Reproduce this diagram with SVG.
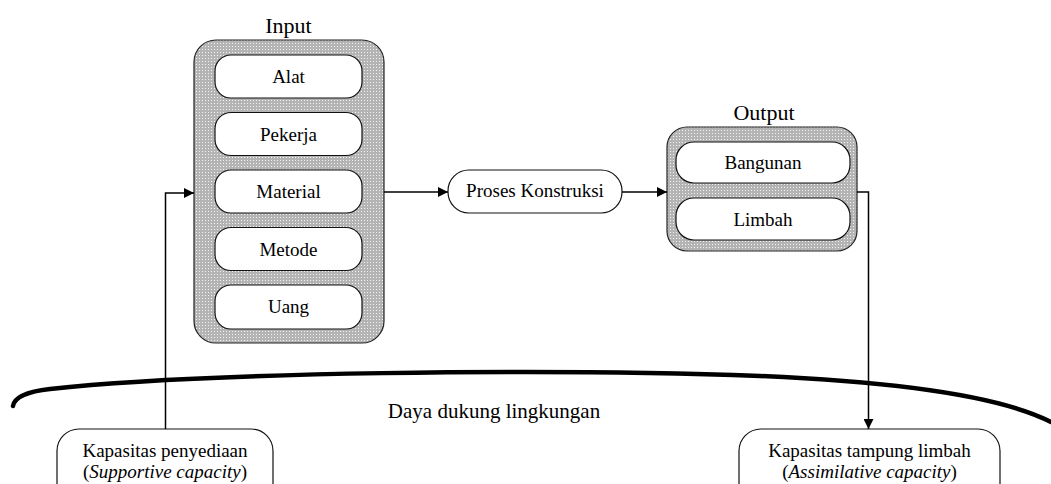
<svg xmlns="http://www.w3.org/2000/svg" width="1051" height="484" viewBox="0 0 1051 484">
<defs>
<pattern id="dots" width="3" height="3" patternUnits="userSpaceOnUse">
<rect width="3" height="3" fill="#b4b4b4"/>
<rect x="1" y="1" width="1" height="1" fill="#f2f2f2"/>
</pattern>
<marker id="arr" viewBox="0 0 10 10" refX="10" refY="5" markerWidth="12" markerHeight="10" markerUnits="userSpaceOnUse" orient="auto">
<path d="M0,0 L10,5 L0,10 z" fill="#000"/>
</marker>
<style>
.cont{fill:url(#dots);stroke:#222;stroke-width:1.2}
.box{fill:#fff;stroke:#111;stroke-width:1.2}
.t{font-family:"Liberation Serif","Times New Roman",serif;font-size:19px;fill:#000;text-anchor:middle}
.title{font-family:"Liberation Serif","Times New Roman",serif;font-size:22px;fill:#000;text-anchor:middle}
.ln{fill:none;stroke:#000;stroke-width:1.5}
</style>
</defs>
<rect width="1051" height="484" fill="#fff"/>

<g id="input">
<text class="title" x="288.5" y="33">Input</text>
<rect class="cont" x="194" y="40" width="190" height="303" rx="22"/>
<g id="alat"><rect class="box" x="215" y="55" width="147" height="43" rx="16"/><text class="t" x="288.5" y="83">Alat</text></g>
<g id="pekerja"><rect class="box" x="215" y="112.5" width="147" height="43" rx="16"/><text class="t" x="288.5" y="140.5">Pekerja</text></g>
<g id="material"><rect class="box" x="215" y="170" width="147" height="43" rx="16"/><text class="t" x="288.5" y="198">Material</text></g>
<g id="metode"><rect class="box" x="215" y="227.5" width="147" height="43" rx="16"/><text class="t" x="288.5" y="255.5">Metode</text></g>
<g id="uang"><rect class="box" x="215" y="285" width="147" height="44" rx="16"/><text class="t" x="288.5" y="313">Uang</text></g>
</g>

<g id="proses">
<rect class="box" x="448" y="170" width="174" height="43" rx="21"/>
<text class="t" x="535" y="197">Proses Konstruksi</text>
</g>

<g id="output">
<text class="title" x="764" y="120">Output</text>
<rect class="cont" x="667" y="127" width="190" height="124" rx="20"/>
<g id="bangunan"><rect class="box" x="676" y="142" width="174" height="41" rx="18"/><text class="t" x="763" y="169">Bangunan</text></g>
<g id="limbah"><rect class="box" x="676" y="198" width="174" height="42" rx="18"/><text class="t" x="763" y="226">Limbah</text></g>
</g>

<g id="lingkungan">
<path d="M13,406 Q15,393 50,389 C200,372 550,368 760,376 C900,382 1000,396 1051,422" fill="none" stroke="#000" stroke-width="4.5" stroke-linecap="round"/>
<text x="494" y="418" font-family="Liberation Serif, Times New Roman, serif" font-size="21" text-anchor="middle">Daya dukung lingkungan</text>
</g>

<g id="supportive">
<rect class="box" x="57" y="429" width="216" height="80" rx="22"/>
<text class="t" x="165" y="457">Kapasitas penyediaan</text>
<text class="t" x="165" y="478">(<tspan font-style="italic">Supportive capacity</tspan>)</text>
</g>

<g id="assimilative">
<rect class="box" x="739" y="429" width="261" height="80" rx="22"/>
<text class="t" x="869.5" y="457">Kapasitas tampung limbah</text>
<text class="t" x="869.5" y="478">(<tspan font-style="italic">Assimilative capacity</tspan>)</text>
</g>

<g id="connectors">
<path class="ln" d="M384,192 H448" marker-end="url(#arr)"/>
<path class="ln" d="M622,192 H667" marker-end="url(#arr)"/>
<path class="ln" d="M165.5,429 V193 H194" marker-end="url(#arr)"/>
<path class="ln" d="M857,192 H868.5 V429" marker-end="url(#arr)"/>
</g>
</svg>
